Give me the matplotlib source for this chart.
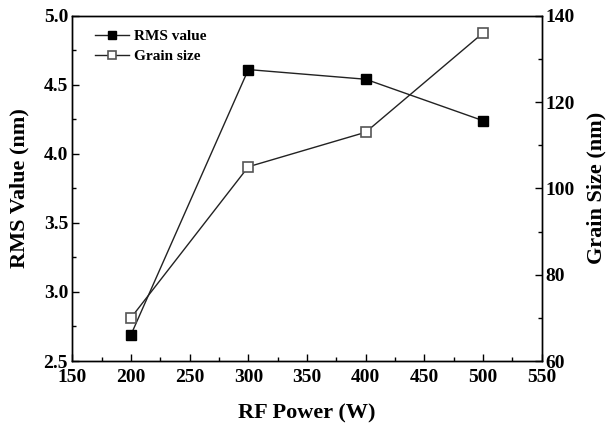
import matplotlib
matplotlib.use("Agg")
import matplotlib.pyplot as plt
from matplotlib.ticker import MultipleLocator

plt.rcParams['font.family'] = ['Liberation Serif', 'DejaVu Serif']
plt.rcParams['font.weight'] = 'bold'

rf_power = [200, 300, 400, 500]
rms_value = [2.69, 4.61, 4.54, 4.24]
grain_size = [70, 105, 113, 136]

fig = plt.figure(figsize=(6.09, 4.28), dpi=100)
ax = fig.add_axes([0.1187, 0.1565, 0.7708, 0.8068])
ax2 = ax.twinx()

l1, = ax.plot(rf_power, rms_value, color='#222222', lw=1.0, marker='s', ms=7.5,
              mfc='black', mec='black', label='RMS value')
l2, = ax2.plot(rf_power, grain_size, color='#222222', lw=1.0, marker='s', ms=7.5,
               mfc='white', mec='#555555', mew=1.2, label='Grain size')

ax.set_xlim(150, 550)
ax.set_ylim(2.5, 5.0)
ax2.set_ylim(60, 140)
ax.xaxis.set_major_locator(MultipleLocator(50))
ax.xaxis.set_minor_locator(MultipleLocator(25))
ax.yaxis.set_major_locator(MultipleLocator(0.5))
ax.yaxis.set_minor_locator(MultipleLocator(0.25))
ax2.yaxis.set_major_locator(MultipleLocator(20))
ax2.yaxis.set_minor_locator(MultipleLocator(10))
ax.yaxis.set_major_formatter(matplotlib.ticker.FormatStrFormatter('%.1f'))

for a in (ax, ax2):
    a.tick_params(which='major', direction='in', length=5, width=1, labelsize=14, pad=3)
    a.tick_params(which='minor', direction='in', length=3, width=1)
    for s in a.spines.values():
        s.set_linewidth(1.0)
ax.tick_params(axis='both', which='both', top=False, right=False)
ax.tick_params(axis='x', which='major', pad=6)

ax.set_xlabel('RF Power (W)', fontsize=16, fontweight='bold', labelpad=12)
ax.set_ylabel('RMS Value (nm)', fontsize=16, fontweight='bold', labelpad=10)
ax2.set_ylabel('Grain Size (nm)', fontsize=16, fontweight='bold', labelpad=8)

leg = ax.legend(handles=[l1, l2], loc='upper left', frameon=False, fontsize=11,
                handlelength=2.2, handletextpad=0.35, borderaxespad=0.5,
                labelspacing=0.4, markerscale=0.85, bbox_to_anchor=(0.02, 1.0))
for t in leg.get_texts():
    t.set_fontweight('bold')

fig.savefig('out.png', dpi=100)
